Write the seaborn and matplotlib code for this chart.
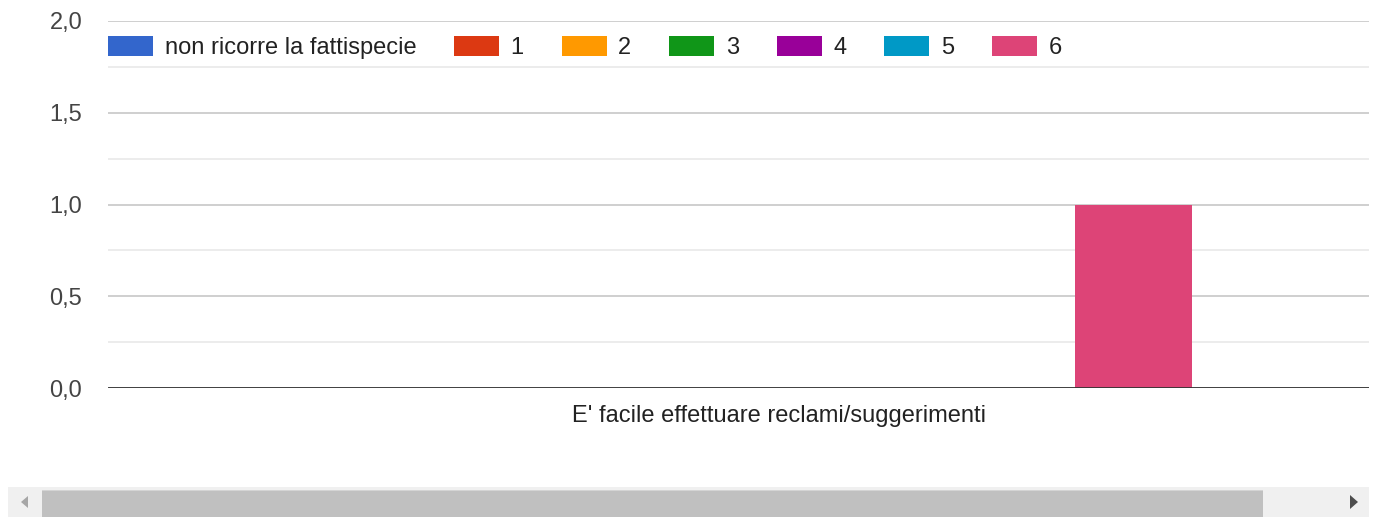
import matplotlib
matplotlib.use("Agg")
from matplotlib import pyplot as plt
from matplotlib.patches import Rectangle, Polygon
from matplotlib.ticker import FuncFormatter, MultipleLocator
import pandas as pd
import seaborn as sns

category = ["E' facile effettuare reclami/suggerimenti"]
series = ["non ricorre la fattispecie", "1", "2", "3", "4", "5", "6"]
counts = [0, 0, 0, 0, 0, 0, 1]
colors = ["#3366cc", "#dc3912", "#ff9900", "#109618", "#990099", "#0099c6", "#dd4477"]

df = pd.DataFrame({"domanda": category * len(series), "risposta": series, "conteggio": counts})

sns.set_style("white")
plt.rcParams["font.family"] = ["Liberation Sans", "DejaVu Sans"]
FS = 17

W, H = 1378, 518
fig = plt.figure(figsize=(W / 100, H / 100), dpi=100)
ax = fig.add_axes([108 / W, 1 - 388 / H, (1369 - 108) / W, (388 - 21) / H])

sns.barplot(data=df, x="domanda", y="conteggio", hue="risposta", hue_order=series,
            palette=colors, width=0.618, gap=0.01, linewidth=0, saturation=1, ax=ax)

ax.set_xlim(-0.5, 0.4403)
ax.set_ylim(0, 2)
ax.yaxis.set_major_locator(MultipleLocator(0.5))
ax.yaxis.set_minor_locator(MultipleLocator(0.25))
ax.yaxis.set_major_formatter(FuncFormatter(lambda v, p: f"{v:.1f}".replace(".", ",")))
ax.grid(axis="y", which="major", color="#cccccc", linewidth=1.3)
ax.grid(axis="y", which="minor", color="#ebebeb", linewidth=1.3)
ax.set_axisbelow(True)
ax.axhline(0, color="#333333", linewidth=2, zorder=5)
for s in ax.spines.values():
    s.set_visible(False)
ax.tick_params(axis="y", which="both", length=0, pad=18.5, labelsize=FS, labelcolor="#444444")
ax.tick_params(axis="x", length=0, pad=12, labelsize=FS, labelcolor="#222222")
ax.set_xlabel("")
ax.set_ylabel("")

handles, labels = ax.get_legend_handles_labels()
ax.legend(handles, labels, ncol=7, loc="center left", bbox_to_anchor=(0, 0.927),
          frameon=False, borderpad=0, borderaxespad=0, fontsize=FS,
          handlelength=1.9, handleheight=0.93, handletextpad=0.5, columnspacing=1.6,
          labelcolor="#222222")


# scrollbar under the chart, in pixel coordinates
def px(x, y):
    return (x / W, 1 - y / H)


fig.patches.append(Rectangle(px(8, 517), (1369 - 8) / W, 30 / H, transform=fig.transFigure,
                             facecolor="#f0f0f0", edgecolor="none"))
fig.patches.append(Rectangle(px(42, 517), (1263 - 42) / W, 27 / H, transform=fig.transFigure,
                             facecolor="#c0c0c0", edgecolor="none"))
fig.patches.append(Rectangle(px(42, 491), (1263 - 42) / W, 1.5 / H, transform=fig.transFigure,
                             facecolor="#d4d4d4", edgecolor="none"))
fig.patches.append(Polygon([px(28, 496), px(28, 508), px(21, 502)], closed=True,
                           transform=fig.transFigure, facecolor="#a6a6a6", edgecolor="none"))
fig.patches.append(Polygon([px(1350, 495), px(1350, 509), px(1358, 502)], closed=True,
                           transform=fig.transFigure, facecolor="#4d4d4d", edgecolor="none"))

fig.savefig("out.png", dpi=100)
